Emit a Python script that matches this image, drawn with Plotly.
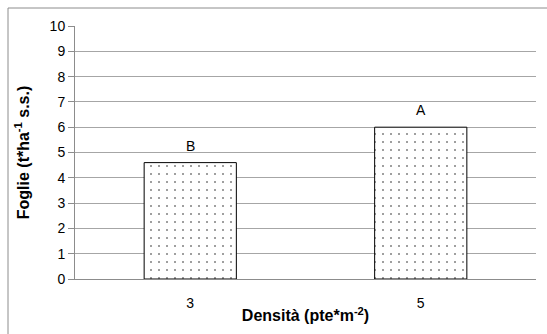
import plotly.graph_objects as go

categories = ["3", "5"]
values = [4.6, 6.0]
letters = ["B", "A"]
y_ticks = list(range(0, 11))

W, H = 547, 334
ml, mr, mt, mb = 75, 11, 26, 55
pw, ph = W - ml - mr, H - mt - mb

fig = go.Figure()
fig.add_trace(go.Bar(
    x=categories, y=values,
    width=0.4,
    marker=dict(
        color="white",
        line=dict(color="black", width=1),
        pattern=dict(shape=".", size=8, solidity=0.05, fgcolor="#000000", bgcolor="white", fillmode="overlay"),
    ),
    hoverinfo="skip",
))

for i, (v, t) in enumerate(zip(values, letters)):
    fig.add_annotation(x=i, y=v, xref="x", yref="y", text=t, showarrow=False, yanchor="bottom", yshift=7,
                       font=dict(family="Liberation Sans, Arial", size=14, color="black"))

# outer chart border (top and left visible)
bx = (8 - ml) / pw
by = 1 + (mt - 8) / ph
fig.add_shape(type="line", xref="paper", yref="paper", x0=bx, x1=(W - ml + 5) / pw, y0=by, y1=by,
              line=dict(color="#8c8c8c", width=1))
fig.add_shape(type="line", xref="paper", yref="paper", x0=bx, x1=bx, y0=by, y1=-(mb + 5) / ph,
              line=dict(color="#8c8c8c", width=1))

fig.update_layout(
    width=W, height=H,
    margin=dict(l=ml, r=mr, t=mt, b=mb),
    paper_bgcolor="white", plot_bgcolor="white",
    showlegend=False,
    font=dict(family="Liberation Sans, Arial", size=13, color="black"),
    xaxis=dict(
        type="category", range=[-0.5, 1.5],
        showline=True, linecolor="#8c8c8c", linewidth=1,
        showgrid=False, ticks="", ticklabelstandoff=11,
        tickfont=dict(size=14),
        title=dict(text="<b>Densità (pte*m<sup>-2</sup>)</b>", font=dict(size=16), standoff=0),
    ),
    yaxis=dict(
        range=[0, 10], tickvals=y_ticks, ticktext=[str(t) for t in y_ticks],
        showline=True, linecolor="#8c8c8c", linewidth=1,
        showgrid=True, gridcolor="#a6a6a6", gridwidth=1,
        ticks="outside", ticklen=6, tickcolor="#8c8c8c",
        tickfont=dict(size=14),
        zeroline=False,
        title=dict(text="<b>Foglie (t*ha<sup>-1</sup> s.s.)</b>", font=dict(size=16), standoff=16),
    ),
)

fig.write_html("out.html")
